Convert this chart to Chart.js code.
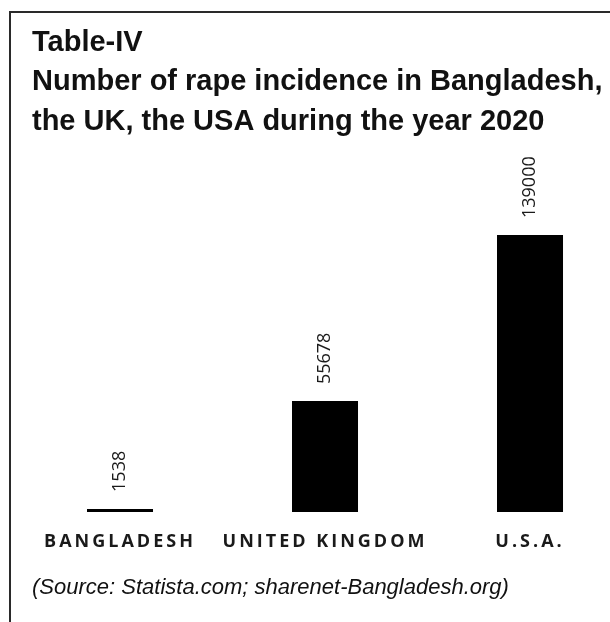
<!DOCTYPE html>
<html>
<head>
<meta charset="utf-8">
<title>Rape incidence 2020</title>
<script src="https://cdn.jsdelivr.net/npm/chart.js@4.4.0/dist/chart.umd.min.js"></script>
<style>
  html, body { margin: 0; padding: 0; background: #fff; overflow: hidden; }
  body { width: 610px; height: 622px; position: relative; }
  /* the boxed frame of the scanned table, cut off on the right and bottom */
  .frame {
    position: absolute; left: 9px; top: 11px; width: 700px; height: 700px;
    border-left: 2px solid #2a2a2a; border-top: 2px solid #2a2a2a;
  }
  #chart { position: absolute; left: 0; top: 0; }
</style>
</head>
<body>
<div class="frame"></div>
<canvas id="chart" width="610" height="622"></canvas>
<script>
// Chart data
const titleLines = [
  'Table-IV',
  'Number of rape incidence in Bangladesh,',
  'the UK, the USA during the year 2020'
];
const sourceNote = '(Source: Statista.com; sharenet-Bangladesh.org)';
const countries = ['BANGLADESH', 'UNITED KINGDOM', 'U.S.A.'];
const rapeCases = [1538, 55678, 139000];

const yAxisMax = 180000;

// Vertical value labels above each bar, then expanded letter spacing
// for the category labels (x ticks have z: 1 so they are drawn after this)
const barValueLabels = {
  id: 'barValueLabels',
  afterDatasetsDraw(chart) {
    const ctx = chart.ctx;
    const meta = chart.getDatasetMeta(0);
    ctx.save();
    ctx.font = '18px "Open Sans", sans-serif';
    ctx.fillStyle = '#1a1a1a';
    ctx.textAlign = 'left';
    ctx.textBaseline = 'middle';
    meta.data.forEach((bar, i) => {
      ctx.save();
      ctx.translate(bar.x, bar.y - 17);
      ctx.rotate(-Math.PI / 2);
      ctx.fillText(String(rapeCases[i]), 0, 0);
      ctx.restore();
    });
    ctx.restore();
    ctx.letterSpacing = '3px';
  },
  afterDraw(chart) {
    chart.ctx.letterSpacing = '0px';
  }
};

const ctx = document.getElementById('chart').getContext('2d');

new Chart(ctx, {
  type: 'bar',
  data: {
    datasets: [{
      data: countries.map((c, i) => ({ x: i, y: rapeCases[i] })),
      backgroundColor: '#000',
      borderWidth: 0,
      barPercentage: 0.805,
      categoryPercentage: 0.4
    }]
  },
  options: {
    responsive: false,
    animation: false,
    events: [],
    layout: { padding: { left: 32, right: 0, top: 0, bottom: 0 } },
    plugins: {
      legend: { display: false },
      tooltip: { enabled: false },
      title: {
        display: true,
        text: titleLines,
        align: 'start',
        color: '#111',
        font: { family: '"Liberation Sans", Arial, sans-serif', size: 29, weight: 'bold', lineHeight: 1.36 },
        padding: { top: 23, bottom: 12 }
      },
      subtitle: {
        display: true,
        position: 'bottom',
        align: 'start',
        text: sourceNote,
        color: '#111',
        font: { family: '"Liberation Sans", Arial, sans-serif', size: 22, style: 'italic', weight: 'normal', lineHeight: 1.2 },
        padding: { top: 3, bottom: 21 }
      }
    },
    scales: {
      x: {
        type: 'linear',
        offset: false,
        min: -0.4293,
        max: 2.3902,
        afterBuildTicks: (scale) => {
          scale.ticks = countries.map((c, i) => ({ value: i }));
        },
        grid: { display: false, drawTicks: false },
        border: { display: false },
        ticks: {
          z: 1,
          autoSkip: false,
          maxRotation: 0,
          padding: 19,
          color: '#1a1a1a',
          font: { family: '"Open Sans", sans-serif', size: 18, weight: 'bold' },
          callback: (v) => countries[v]
        }
      },
      y: {
        display: false,
        min: 0,
        max: yAxisMax
      }
    }
  },
  plugins: [barValueLabels]
});
</script>
</body>
</html>
